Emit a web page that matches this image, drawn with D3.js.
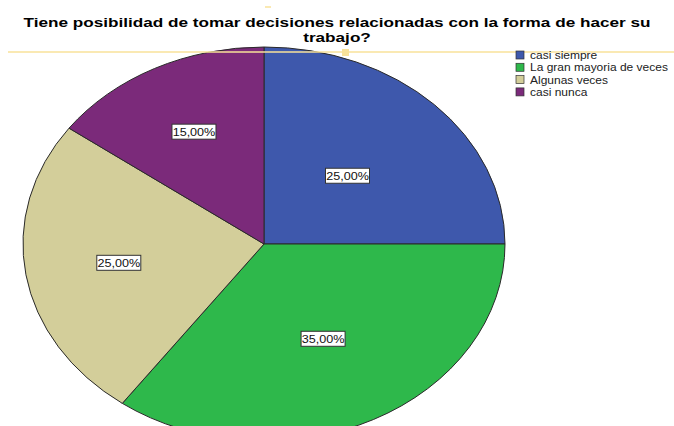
<!DOCTYPE html>
<html>
<head>
<meta charset="utf-8">
<script src="https://cdn.jsdelivr.net/npm/d3@7"></script>
<style>
  body { margin: 0; background: #fff; }
  svg { display: block; font-family: Arial, "Liberation Sans", sans-serif; }
</style>
</head>
<body>
<span></span>
<script>
let width = 674;
let height = 426;

// datos
let categories = ["casi siempre", "La gran mayoria de veces", "Algunas veces", "casi nunca"];
let percents = [25, 35, 25, 15];
let colors = ["#3E58AC", "#2EB84B", "#D3CE9A", "#7B2A7A"];
let titleLines = ["Tiene posibilidad de tomar decisiones relacionadas con la forma de hacer su", "trabajo?"];

let centerX = 264;
let centerY = 244;
let rx = 241;
let ry = 197;
let stretch = 1.2; // el texto del original esta estirado a lo ancho
let labelFactor = [0.49, 0.54, 0.61, 0.64];

let svg = d3.select("span")
    .append("svg")
    .attr("width", width)
    .attr("height", height);

// titulo
svg.append("g")
    .attr("transform", "translate(337,0) scale(1.32,1)")
    .selectAll("text")
    .data(titleLines)
    .join("text")
    .attr("x", 0)
    .attr("y", (d, i) => 27.5 + i * 15)
    .attr("text-anchor", "middle")
    .attr("font-size", 13)
    .attr("font-weight", "bold")
    .text(d => d);

let pie = d3.pie().sort(null).value(d => d);
let arcs = pie(percents);
let arc = d3.arc().innerRadius(0).outerRadius(1);

// el pastel es una elipse: escalamos un circulo unitario
let g = svg.append("g")
    .attr("transform", "translate(" + centerX + "," + centerY + ") scale(" + rx + "," + ry + ")");

g.selectAll("path")
    .data(arcs)
    .join("path")
    .attr("d", arc)
    .attr("fill", (d, i) => colors[i])
    .attr("stroke", "#2a2a2a")
    .attr("stroke-width", 1)
    .attr("vector-effect", "non-scaling-stroke");

// linea amarilla (seleccion)
svg.append("line")
    .attr("x1", 8).attr("x2", width)
    .attr("y1", 52).attr("y2", 52)
    .attr("stroke", "#F8E29A")
    .attr("stroke-width", 1.5);
svg.append("rect")
    .attr("x", 342).attr("y", 49)
    .attr("width", 7).attr("height", 7)
    .attr("fill", "#F8E29A");
svg.append("line")
    .attr("x1", 265).attr("x2", 271)
    .attr("y1", 7).attr("y2", 7)
    .attr("stroke", "#F8E29A")
    .attr("stroke-width", 1.5);

// etiquetas
let labels = svg.selectAll("g.lab")
    .data(arcs)
    .join("g")
    .attr("class", "lab")
    .attr("transform", (d, i) => {
        let a = (d.startAngle + d.endAngle) / 2;
        let x = centerX + rx * labelFactor[i] * Math.sin(a);
        let y = centerY - ry * labelFactor[i] * Math.cos(a);
        return "translate(" + x + "," + y + ")";
    });

labels.append("rect")
    .attr("x", -22).attr("y", -7.5)
    .attr("width", 44).attr("height", 15)
    .attr("fill", "#fff")
    .attr("stroke", "#333")
    .attr("stroke-width", 1);

labels.append("text")
    .attr("text-anchor", "middle")
    .attr("transform", "scale(" + stretch + ",1)")
    .attr("y", 4)
    .attr("font-size", 10.5)
    .attr("fill", "#111")
    .text(d => d.data.toFixed(2).replace(".", ",") + "%");

// leyenda
let legend = svg.append("g")
    .attr("transform", "translate(516,51)");

let items = legend.selectAll("g")
    .data(categories)
    .join("g")
    .attr("transform", (d, i) => "translate(0," + (i * 12.3) + ")");

items.append("rect")
    .attr("width", 8).attr("height", 8)
    .attr("fill", (d, i) => colors[i])
    .attr("stroke", "#333")
    .attr("stroke-width", 0.7);

items.append("text")
    .attr("transform", "translate(14,0) scale(" + stretch + ",1)")
    .attr("y", 8)
    .attr("font-size", 10)
    .attr("fill", "#222")
    .text(d => d);
</script>
</body>
</html>
